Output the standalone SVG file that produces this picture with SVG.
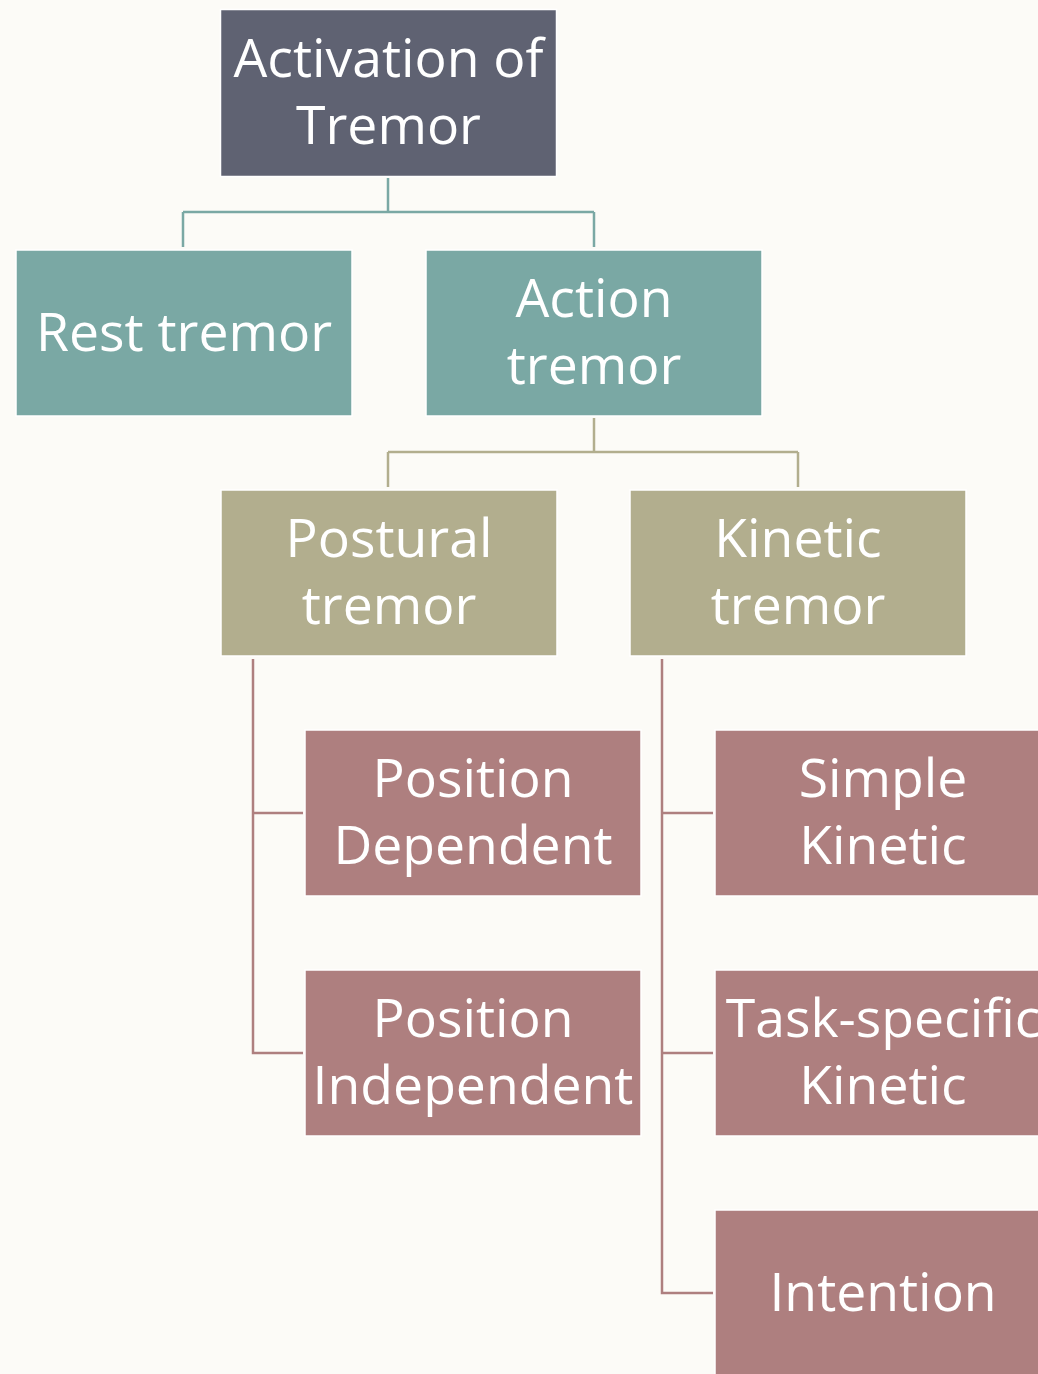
<svg xmlns="http://www.w3.org/2000/svg" width="1038" height="1374" viewBox="0 0 1038 1374">
<style>
.box{stroke:#ffffff;stroke-width:1.5}
.t{font-family:"Open Sans","Noto Sans",sans-serif;font-size:53.5px;fill:#ffffff;text-anchor:middle}
.c{fill:none;stroke-width:2.5}
</style>
<rect width="1038" height="1374" fill="#fcfbf7"/>
<g id="connectors">
<path class="c" stroke="#7aa8a4" d="M388,178V212M183,212H594M183,212V247M594,212V247"/>
<path class="c" stroke="#b2ae8e" d="M594,418V452M388,452H798M388,452V487M798,452V487"/>
<path class="c" stroke="#ae7f7f" d="M253,659V1053H303M253,813H303"/>
<path class="c" stroke="#ae7f7f" d="M662,659V1293H713M662,813H713M662,1053H713"/>
</g>
<g id="n-activation"><rect class="box" x="220.5" y="9.5" width="336" height="167" fill="#5f6272"/><text class="t" x="388.5" y="77">Activation of</text><text class="t" x="388.5" y="144">Tremor</text></g>
<g id="n-rest"><rect class="box" x="16" y="250" width="336" height="166" fill="#7aa8a4"/><text class="t" x="184" y="351">Rest tremor</text></g>
<g id="n-action"><rect class="box" x="426" y="250" width="336" height="166" fill="#7aa8a4"/><text class="t" x="594" y="317">Action</text><text class="t" x="594" y="384">tremor</text></g>
<g id="n-postural"><rect class="box" x="221" y="490" width="336" height="166" fill="#b2ae8e"/><text class="t" x="389" y="557">Postural</text><text class="t" x="389" y="624">tremor</text></g>
<g id="n-kinetic"><rect class="box" x="630" y="490" width="336" height="166" fill="#b2ae8e"/><text class="t" x="798" y="557">Kinetic</text><text class="t" x="798" y="624">tremor</text></g>
<g id="n-posdep"><rect class="box" x="305" y="730" width="336" height="166" fill="#ae7f7f"/><text class="t" x="473" y="797">Position</text><text class="t" x="473" y="864">Dependent</text></g>
<g id="n-posind"><rect class="box" x="305" y="970" width="336" height="166" fill="#ae7f7f"/><text class="t" x="473" y="1037">Position</text><text class="t" x="473" y="1104">Independent</text></g>
<g id="n-simple"><rect class="box" x="715" y="730" width="336" height="166" fill="#ae7f7f"/><text class="t" x="883" y="797">Simple</text><text class="t" x="883" y="864">Kinetic</text></g>
<g id="n-task"><rect class="box" x="715" y="970" width="336" height="166" fill="#ae7f7f"/><text class="t" x="883" y="1037">Task-specific</text><text class="t" x="883" y="1104">Kinetic</text></g>
<g id="n-intention"><rect class="box" x="715" y="1210" width="336" height="166" fill="#ae7f7f"/><text class="t" x="883" y="1311">Intention</text></g>
</svg>
